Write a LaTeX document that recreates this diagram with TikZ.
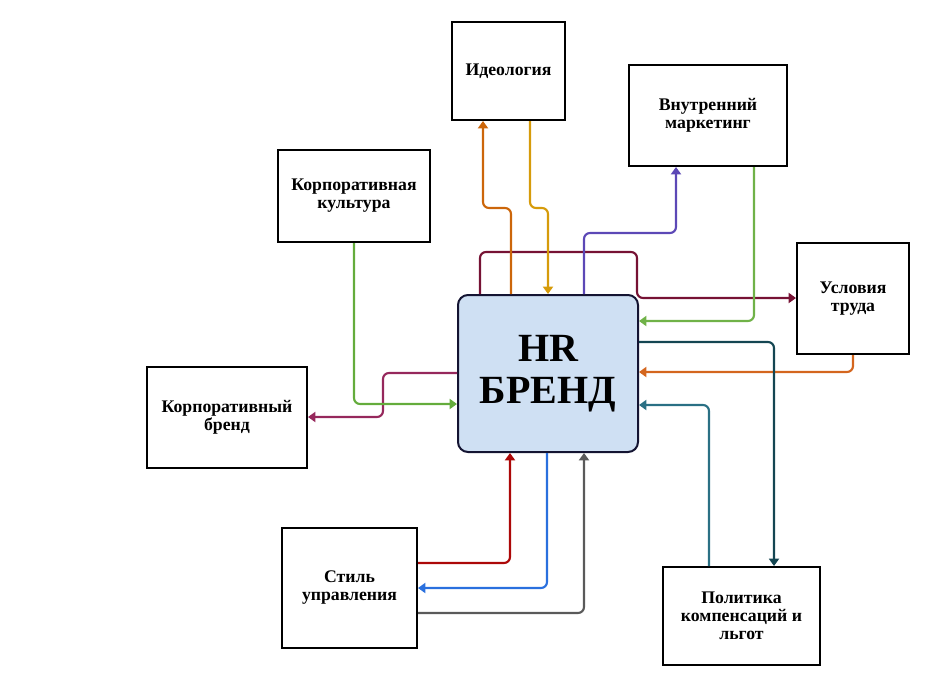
\documentclass[tikz,border=0pt]{standalone}
\usepackage{fontspec}
\setmainfont{Liberation Serif}
\usetikzlibrary{arrows.meta,calc}
\definecolor{cOrangeA}{RGB}{204,102,10}
\definecolor{cGold}{RGB}{214,155,10}
\definecolor{cPurple}{RGB}{92,72,182}
\definecolor{cMaroon}{RGB}{118,18,52}
\definecolor{cGreenA}{RGB}{112,178,72}
\definecolor{cGreenB}{RGB}{100,172,60}
\definecolor{cOrangeB}{RGB}{212,102,30}
\definecolor{cDTeal}{RGB}{20,70,82}
\definecolor{cTeal}{RGB}{42,112,132}
\definecolor{cMagenta}{RGB}{150,40,92}
\definecolor{cRed}{RGB}{172,8,8}
\definecolor{cBlue}{RGB}{42,112,222}
\definecolor{cGray}{RGB}{90,90,90}
\definecolor{hrFill}{RGB}{207,224,243}
\definecolor{hrLine}{RGB}{20,20,50}
\tikzset{
  box/.style={draw=black, line width=1.5pt, fill=white, rectangle, align=center, inner sep=0pt,
    font=\fontsize{13.3}{13.5}\selectfont\bfseries},
  link/.style={line width=1.6pt, rounded corners=4.5pt, -{Triangle[width=7.5pt,length=5.5pt]}},
}
\begin{document}
\begin{tikzpicture}[x=0.75pt,y=-0.75pt]
\useasboundingbox (0,0) rectangle (938,689);
\node[box, minimum width=84.75pt, minimum height=73.5pt] (ideo) at (508.5,71) {Идеология};
\node[box, minimum width=118.5pt, minimum height=75.75pt] (vnutr) at (708,115.5) {Внутренний\\маркетинг};
\node[box, minimum width=114pt, minimum height=69pt] (kult) at (354,196) {Корпоративная\\культура};
\node[box, minimum width=84pt, minimum height=83.25pt] (usl) at (853,298.5) {Условия\\труда};
\node[box, minimum width=120pt, minimum height=75.75pt] (kbrand) at (227,417.5) {Корпоративный\\бренд};
\node[box, minimum width=101.25pt, minimum height=90pt] (stil) at (349.5,588) {Стиль\\управления};
\node[box, minimum width=117.75pt, minimum height=73.5pt] (polit) at (741.5,616) {Политика\\компенсаций и\\льгот};
\node[draw=hrLine, fill=hrFill, line width=1.5pt, rounded corners=7.5pt, align=center, inner sep=0pt,
  minimum width=135pt, minimum height=117.75pt,
  font=\fontsize{30}{32}\selectfont\bfseries] (hr) at (548,373.5) {HR\\БРЕНД};
% connectors
\draw[link, cMaroon] (480,0 |- hr.north) -- (480,252) -- (637,252) -- (637,298) -- (usl.west |- 0,298);
\draw[link, cMagenta] (hr.west |- 0,373) -- (383,373) -- (383,417) -- (kbrand.east |- 0,417);
\draw[link, cOrangeA] (511,0 |- hr.north) -- (511,208) -- (483,208) -- (483,0 |- ideo.south);
\draw[link, cGold] (530,0 |- ideo.south) -- (530,208) -- (548,208) -- (548,0 |- hr.north);
\draw[link, cPurple] (584,0 |- hr.north) -- (584,233) -- (676,233) -- (676,0 |- vnutr.south);
\draw[link, cGreenA] (754,0 |- vnutr.south) -- (754,321) -- (hr.east |- 0,321);
\draw[link, cOrangeB] (usl.south) -- (853,372) -- (hr.east |- 0,372);
\draw[link, cDTeal] (hr.east |- 0,342) -- (774,342) -- (774,0 |- polit.north);
\draw[link, cTeal] (709,0 |- polit.north) -- (709,405) -- (hr.east |- 0,405);
\draw[link, cGreenB] (kult.south) -- (354,404) -- (hr.west |- 0,404);
\draw[link, cRed] (stil.east |- 0,563) -- (510,563) -- (510,0 |- hr.south);
\draw[link, cBlue] (547,0 |- hr.south) -- (547,588) -- (stil.east |- 0,588);
\draw[link, cGray] (stil.east |- 0,613) -- (584,613) -- (584,0 |- hr.south);
\end{tikzpicture}
\end{document}
